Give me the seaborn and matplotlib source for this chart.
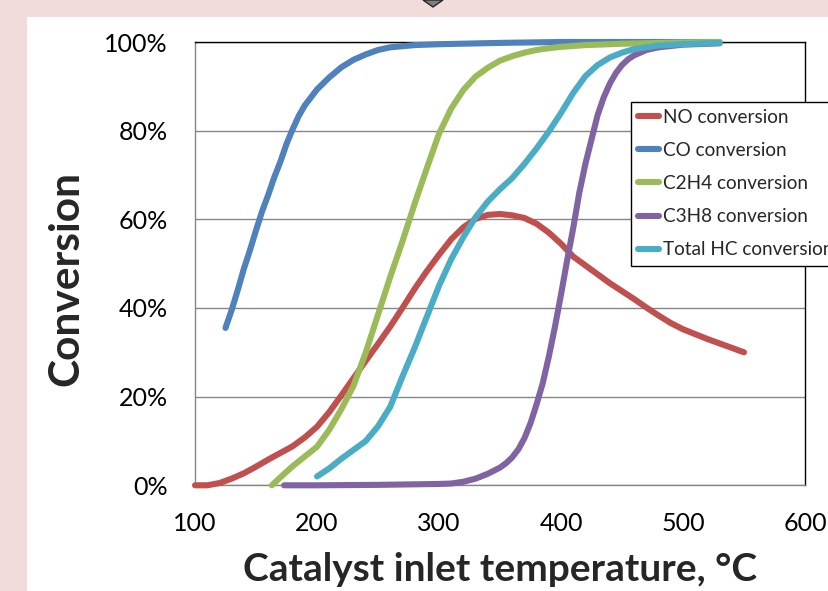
import matplotlib
matplotlib.use("Agg")
import matplotlib.pyplot as plt
import seaborn as sns
import pandas as pd
from matplotlib.ticker import PercentFormatter, MultipleLocator
from matplotlib.patches import Rectangle, Polygon

# ---- data ----
no_T = [100, 110, 120, 130, 140, 150, 160, 170, 180, 190, 200, 210, 220, 230, 240, 250,
        260, 270, 280, 290, 300, 310, 320, 330, 340, 350, 360, 370, 380, 390, 400, 410,
        420, 430, 440, 450, 460, 470, 480, 490, 500, 510, 520, 530, 540, 550]
no_v = [0, 0, 0.5, 1.5, 2.7, 4.2, 5.8, 7.3, 8.8, 10.8, 13.2, 16.5, 20.3, 24.2, 28.1, 31.9,
        35.8, 40.0, 44.3, 48.3, 52.0, 55.5, 58.2, 60.1, 61.0, 61.2, 60.9, 60.3, 59.0, 57.0, 54.5, 51.6,
        49.6, 47.6, 45.6, 43.8, 42.0, 40.1, 38.3, 36.6, 35.2, 34.1, 33.0, 32.0, 31.0, 30.0]

co_T = [125, 130, 135, 140, 145, 150, 155, 160, 165, 170, 175, 180, 185, 190, 200, 210, 220, 230,
        240, 250, 260, 280, 300, 350, 400, 450, 530]
co_v = [35.5, 39.5, 44.0, 48.8, 53.0, 57.5, 61.8, 65.5, 69.5, 73.0, 77.0, 80.3, 83.3, 85.7, 89.3, 92.0,
        94.3, 96.0, 97.2, 98.2, 98.8, 99.3, 99.5, 99.8, 100, 100, 100]

c2h4_T = [163, 170, 180, 190, 200, 210, 220, 230, 240, 250, 260, 270, 280, 290, 300, 310,
          320, 330, 340, 350, 360, 370, 380, 390, 400, 420, 450, 500, 530]
c2h4_v = [0, 1.8, 4.3, 6.5, 8.7, 12.5, 17.2, 22.5, 30.0, 38.5, 47.0, 55.0, 63.5, 71.5, 79.3, 85.0,
          89.2, 92.2, 94.2, 95.8, 96.8, 97.6, 98.2, 98.6, 98.9, 99.3, 99.6, 99.9, 100]

c3h8_T = [173, 200, 250, 300, 310, 320, 330, 340, 350, 355, 360, 365, 370, 375, 380, 385, 390, 395,
          400, 405, 410, 415, 420, 425, 430, 435, 440, 445, 450, 455, 460, 470, 480, 500, 530]
c3h8_v = [0, 0, 0.1, 0.3, 0.4, 0.8, 1.5, 2.6, 4.0, 5.0, 6.3, 8.1, 10.6, 14.0, 18.3, 23.0, 29.0, 35.7,
          43.0, 50.7, 58.0, 66.0, 72.5, 78.0, 83.5, 87.5, 90.6, 93.0, 94.8, 96.1, 97.0, 98.2, 98.8, 99.4, 99.7]

thc_T = [200, 210, 220, 230, 240, 250, 260, 270, 280, 290, 300, 310, 320, 330, 340, 350,
         360, 370, 380, 390, 400, 410, 420, 430, 440, 450, 460, 480, 500, 530]
thc_v = [2.0, 3.8, 6.0, 8.0, 10.0, 13.3, 17.7, 24.5, 31.0, 38.0, 45.0, 51.0, 56.0, 60.5, 64.0, 66.8,
         69.3, 72.5, 76.0, 79.8, 84.0, 88.5, 92.3, 94.8, 96.5, 97.6, 98.4, 99.2, 99.5, 99.8]

series_names = ["NO conversion", "CO conversion", "C2H4 conversion",
                "C3H8 conversion", "Total HC conversion"]
colors = ["#C0504D", "#4F81BD", "#9BBB59", "#8064A2", "#4BACC6"]
x_ticks = [100, 200, 300, 400, 500, 600]
y_ticks = [0, 20, 40, 60, 80, 100]

frames = []
for name, T, v in zip(series_names,
                      [no_T, co_T, c2h4_T, c3h8_T, thc_T],
                      [no_v, co_v, c2h4_v, c3h8_v, thc_v]):
    frames.append(pd.DataFrame({"T": T, "conv": v, "series": name}))
df = pd.concat(frames, ignore_index=True)

# ---- figure ----
sns.set_style("white")
plt.rcParams["font.family"] = ["Lato", "DejaVu Sans"]

W, H = 829, 591
fig = plt.figure(figsize=(W / 100, H / 100), dpi=100, facecolor="#F2DCDB")

# white panel
fig.patches.append(Rectangle((27 / W, 0), 1 - 27 / W, 1 - 17 / H, transform=fig.transFigure,
                             facecolor="white", edgecolor="none", zorder=-10))
# small diamond marker at top
fig.patches.append(Polygon([(423 / W, 1.0), (433 / W, 1 - 7 / H), (443 / W, 1.0)],
                           closed=True, transform=fig.transFigure,
                           facecolor="#7F7F7F", edgecolor="#262626", lw=1, zorder=-9))

ax = fig.add_axes([195 / W, 1 - 485.3 / H, 610 / W, 443.3 / H])
ax.set_facecolor("none")

sns.lineplot(data=df, x="T", y="conv", hue="series", hue_order=series_names,
             palette=colors, sort=False, estimator=None, lw=4.4, ax=ax,
             legend=True)
for ln in ax.get_lines():
    ln.set_solid_capstyle("round")
    ln.set_solid_joinstyle("round")
    ln.set_clip_on(False)
    ln.set_zorder(3)

ax.set_xlim(100, 600)
ax.set_ylim(0, 100)
ax.set_xticks(x_ticks)
ax.set_yticks(y_ticks)
ax.xaxis.set_minor_locator(MultipleLocator(20))
ax.yaxis.set_minor_locator(MultipleLocator(4))
ax.yaxis.set_major_formatter(PercentFormatter(xmax=100, decimals=0))

ax.yaxis.grid(True, which="major", color="#868686", lw=1)
ax.set_axisbelow(True)

for s in ["left", "bottom"]:
    ax.spines[s].set_color("#868686")
    ax.spines[s].set_linewidth(1)
for s in ["top", "right"]:
    ax.spines[s].set_color("black")
    ax.spines[s].set_linewidth(1)
    ax.spines[s].set_zorder(2.5)

ax.tick_params(axis="both", which="major", direction="out", length=7, width=1,
               color="#868686", labelsize=18, labelcolor="black",
               top=False, right=False)
ax.tick_params(axis="y", which="major", pad=12.5)
ax.tick_params(axis="x", which="major", pad=12)
ax.tick_params(axis="both", which="minor", direction="in", length=4.5, width=1,
               color="#868686", top=False, right=False)

ax.set_xlabel("Catalyst inlet temperature, °C", fontsize=28, fontweight="bold")
ax.xaxis.label.set_va("baseline")
ax.xaxis.set_label_coords(0.5, (485.3 - 581) / 443.3)

ax.set_ylabel("Conversion", fontsize=30.5, fontweight="bold")
ax.yaxis.label.set_va("center")
ax.yaxis.set_label_coords((66 - 195) / 610, (485.3 - 278) / 443.3)

handles, labels = ax.get_legend_handles_labels()
leg = ax.legend(handles, labels, loc="upper left", bbox_to_anchor=(631 / W, 1 - 101.5 / H),
                bbox_transform=fig.transFigure, borderaxespad=0, fontsize=13.7,
                handlelength=1.1, handletextpad=0.2, labelspacing=0.85,
                borderpad=0.38, frameon=True, fancybox=False, framealpha=1,
                edgecolor="black")
leg.get_frame().set_linewidth(1)
leg.set_zorder(5)
for lh in leg.get_lines():
    lh.set_linewidth(4.4)
    lh.set_solid_capstyle("round")

fig.savefig("out.png", dpi=100, facecolor=fig.get_facecolor())
